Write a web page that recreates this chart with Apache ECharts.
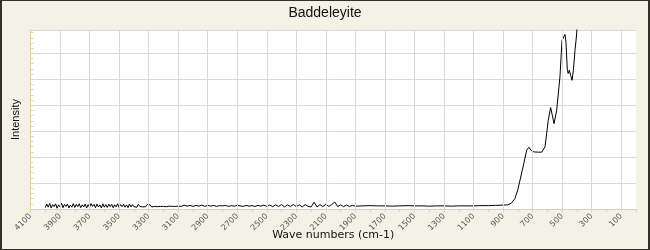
<!DOCTYPE html>
<html>
<head>
<meta charset="utf-8">
<script src="https://cdn.jsdelivr.net/npm/echarts@6/dist/echarts.min.js"></script>
<style>
html,body{margin:0;padding:0;background:#f4f2e6;}
#wrap{position:relative;width:650px;height:250px;}
#chart{position:absolute;left:0;top:0;width:650px;height:250px;}
#frame{position:absolute;left:0;top:0;width:646px;height:248px;border-style:solid;border-color:#34312b;border-width:1px 2px 1px 2px;pointer-events:none;}
</style>
</head>
<body>
<div id="wrap"><div id="chart"></div><div id="frame"></div></div>
<script>
// Wavenumbers (cm-1)
const waveNumbers = [
 4000,3990,3980,3970,3960,3950,3940,3930,3920,3910,
 3900,3890,3880,3870,3860,3850,3840,3830,3820,3810,
 3800,3790,3780,3770,3760,3750,3740,3730,3720,3710,
 3700,3690,3680,3670,3660,3650,3640,3630,3620,3610,
 3600,3590,3580,3570,3560,3550,3540,3530,3520,3510,
 3500,3490,3480,3470,3460,3450,3440,3430,3420,3410,
 3400,3390,3380,3370,3360,3350,3340,3330,3320,3310,
 3300,3290,3280,3270,3260,3250,3240,3230,3220,3210,
 3200,3190,3180,3170,3160,3150,3140,3130,3120,3110,
 3100,
 3080,3060,3040,3020,3000,2980,2960,2940,2920,2900,
 2880,2860,2840,2820,2800,2780,2760,2740,2720,2700,
 2680,2660,2640,2620,2600,2580,2560,2540,2520,2500,
 2480,2460,2440,2420,2400,2380,2360,2340,2320,2300,
 2280,2260,2240,2220,2200,2180,2160,2140,2120,2100,
 2080,2060,2040,2020,2000,1980,1960,1940,1920,1900,
 1850,1800,1750,1700,1650,1600,1550,1500,1450,1400,
 1350,1300,1250,1200,1150,1100,1050,1000,950,900,
 870,845,820,800,785,760,740,725,707,690,
 660,639,616,594,578,567,555,537,515,501,
 481,474,465,459,452,442,433,424,413,406,
 401,395
];
// Intensity (arbitrary units)
const intensity = [
 0.05,0.19,0.07,0.21,0.04,0.17,0.09,0.20,0.03,0.16,
 0.08,0.22,0.05,0.18,0.10,0.19,0.04,0.15,0.07,0.21,
 0.06,0.18,0.09,0.20,0.05,0.16,0.08,0.19,0.04,0.17,
 0.07,0.21,0.10,0.18,0.05,0.19,0.08,0.16,0.04,0.20,
 0.07,0.17,0.06,0.19,0.09,0.18,0.05,0.16,0.08,0.20,
 0.06,0.17,0.09,0.18,0.07,0.16,0.05,0.19,0.08,0.17,
 0.09,0.16,0.07,0.18,0.10,0.17,0.08,0.15,0.09,0.17,
 0.10,0.16,0.08,0.15,0.10,0.17,0.09,0.15,0.10,0.16,
 0.10,0.15,0.09,0.14,0.11,0.15,0.10,0.14,0.10,0.15,
 0.11,
 0.10,0.15,0.11,0.14,0.10,0.14,0.11,0.15,0.10,0.14,
 0.11,0.14,0.10,0.13,0.12,0.14,0.10,0.13,0.11,0.14,
 0.12,0.10,0.14,0.11,0.13,0.10,0.14,0.11,0.15,0.10,
 0.15,0.09,0.16,0.10,0.17,0.08,0.16,0.10,0.17,0.09,
 0.16,0.08,0.17,0.10,0.08,0.26,0.08,0.17,0.09,0.18,
 0.10,0.17,0.27,0.09,0.16,0.09,0.15,0.10,0.14,0.11,
 0.12,0.13,0.12,0.12,0.11,0.12,0.13,0.12,0.12,0.11,
 0.12,0.12,0.11,0.12,0.12,0.12,0.13,0.13,0.14,0.15,
 0.16,0.22,0.40,0.75,1.12,1.75,2.27,2.38,2.24,2.20,
 2.19,2.19,2.40,3.42,3.91,3.62,3.29,3.81,5.09,6.50,
 6.73,6.43,5.35,5.22,5.35,5.15,4.96,5.35,6.12,6.50,
 6.82,7.60
];
const labelValues = [4100,3900,3700,3500,3300,3100,2900,2700,2500,2300,2100,1900,1700,1500,1300,1100,900,700,500,300,100];
const gridValues = [3900,3700,3500,3300,3100,2900,2700,2500,2300,2100,1900,1700,1500,1300,1100,900,700,500,300,100];
const tickValues = [4100,4000,3900,3800,3700,3600,3500,3400,3300,3200,3100,3000,2900,2800,2700,2600,2500,2400,2300,2200,2100,2000,1900,1800,1700,1600,1500,1400,1300,1200,1100,1000,900,800,700,600,500,400,300,200,100,0];

const seriesData = waveNumbers.map((w, i) => [w, intensity[i]]);

const tan = '#dcd5a0';
const gridColor = '#d9d9d9';
const chart = echarts.init(document.getElementById('chart'), null, {renderer: 'canvas'});
chart.setOption({
  backgroundColor: '#f4f2e6',
  animation: false,
  title: {
    text: 'Baddeleyite',
    left: 'center',
    top: 1,
    textStyle: {fontFamily: 'Liberation Sans', fontSize: 14, fontWeight: 'normal', color: '#111'}
  },
  grid: {left: 30.5, right: 14, top: 30, bottom: 41, show: true, backgroundColor: '#ffffff', borderWidth: 0},
  xAxis: {
    type: 'value', min: 0, max: 4100, interval: 100, inverse: true,
    name: 'Wave numbers (cm-1)', nameLocation: 'middle', nameGap: 21, nameMoveOverlap: false,
    nameTextStyle: {fontFamily: 'DejaVu Sans', fontSize: 11, color: '#111'},
    axisLine: {show: true, onZero: false, lineStyle: {color: tan, width: 1}},
    axisTick: {show: true, inside: false, length: 3, customValues: tickValues, lineStyle: {color: tan}},
    axisLabel: {show: true, rotate: 45, margin: 6, customValues: labelValues, formatter: v => String(v), fontFamily: 'DejaVu Sans', fontSize: 8, color: '#555'},
    splitLine: {show: false}
  },
  yAxis: {
    type: 'value', min: 0, max: 6.9, interval: 1, position: 'left',
    name: 'Intensity', nameLocation: 'middle', nameGap: 9, nameMoveOverlap: false,
    nameTextStyle: {fontFamily: 'Liberation Sans', fontSize: 11, color: '#111'},
    axisLine: {show: true, onZero: false, lineStyle: {color: tan, width: 1}},
    axisTick: {show: true, inside: true, length: 3, lineStyle: {color: tan}},
    minorTick: {show: true, splitNumber: 5, length: 3, lineStyle: {color: tan}},
    axisLabel: {show: false},
    splitLine: {show: true, lineStyle: {color: gridColor, width: 1}}
  },
  series: [{
    type: 'line',
    data: [],
    z: 1,
    silent: true,
    markLine: {
      silent: true,
      symbol: 'none',
      animation: false,
      label: {show: false},
      lineStyle: {color: gridColor, type: 'solid', width: 1},
      emphasis: {disabled: true},
      data: gridValues.map(v => ({xAxis: v}))
    }
  }, {
    type: 'line',
    data: seriesData,
    z: 2,
    showSymbol: false,
    symbol: 'none',
    clip: true,
    lineStyle: {color: '#000', width: 1},
    silent: true
  }]
});
</script>
</body>
</html>
